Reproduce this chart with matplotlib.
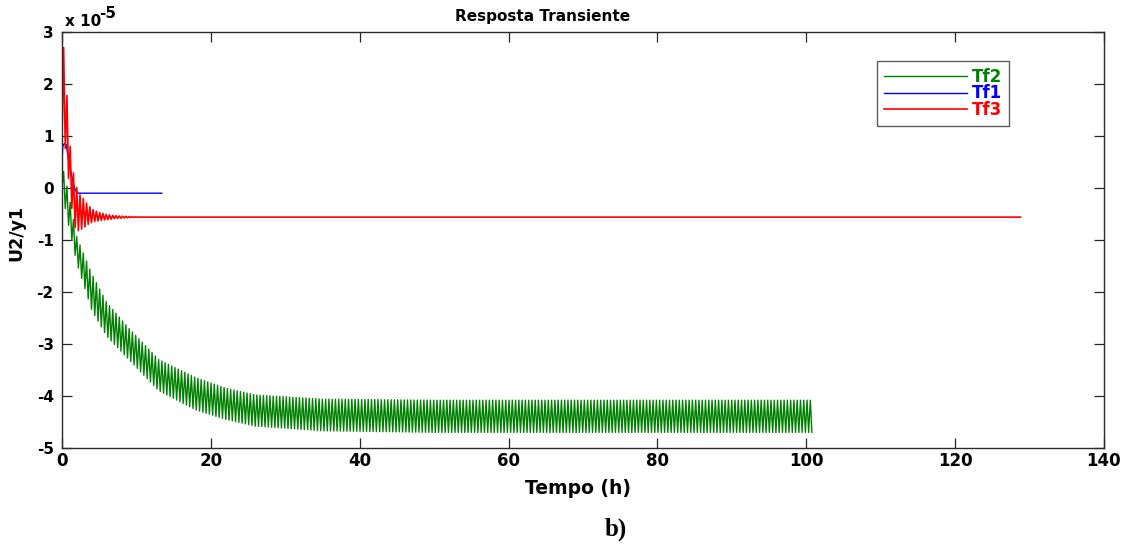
import numpy as np
import matplotlib
matplotlib.use("Agg")
import matplotlib.pyplot as plt

plt.rcParams['font.family'] = ['DejaVu Sans']
plt.rcParams['axes.unicode_minus'] = False

# ---- data (values in units of 1e-5) ----
# Tf2: oscillating response, envelope knots (time in h)
tf2_t     = [0.0, 0.5, 1.0, 2.0, 4.0, 6.0, 9.0, 13.0, 18.0, 22.0, 26.0, 35.0, 50.0, 100.8]
tf2_upper = [0.45, 0.15, -0.20, -0.95, -1.65, -2.20, -2.70, -3.30, -3.65, -3.85, -3.98, -4.06, -4.08, -4.08]
tf2_lower = [0.00, -0.45, -0.80, -1.45, -2.35, -2.85, -3.30, -3.90, -4.27, -4.45, -4.58, -4.67, -4.70, -4.70]

# Tf1: smooth response settling at a constant
tf1_t = [0.0, 0.1, 0.3, 0.6, 0.8, 1.0, 1.2, 1.5, 1.8, 2.2, 13.4]
tf1_v = [0.50, 0.80, 0.85, 0.83, 0.60, 0.45, 0.30, 0.10, -0.05, -0.10, -0.10]

# Tf3: decaying oscillation, envelope knots, then a constant tail
tf3_t     = [0.0, 0.1, 0.3, 0.6, 0.9, 1.3, 1.7, 2.2, 2.8, 3.5, 4.2, 5.0, 6.0, 7.0, 8.0, 9.0, 10.0, 11.0]
tf3_upper = [0.90, 2.85, 2.60, 1.95, 1.10, 0.50, 0.15, -0.10, -0.19, -0.33, -0.42, -0.47, -0.51, -0.53, -0.54, -0.55, -0.555, -0.56]
tf3_lower = [0.90, 1.00, 0.90, 0.60, 0.15, -0.37, -0.75, -0.82, -0.78, -0.70, -0.65, -0.63, -0.61, -0.59, -0.58, -0.57, -0.565, -0.56]
tf3_final = -0.56
tf3_end = 128.8

sample_step = 0.22  # h between alternate extremes

x_ticks = [0, 20, 40, 60, 80, 100, 120, 140]
y_ticks = [-5, -4, -3, -2, -1, 0, 1, 2, 3]


def zigzag(t_knots, upper, lower, step):
    t = np.arange(t_knots[0], t_knots[-1] + 1e-9, step)
    up = np.interp(t, t_knots, upper)
    lo = np.interp(t, t_knots, lower)
    y = np.where(np.arange(len(t)) % 2 == 0, lo, up)
    return t, y


W, H = 1125, 546
fig = plt.figure(figsize=(W / 100, H / 100), dpi=100)
ax = fig.add_axes([62 / W, 1 - 448 / H, (1104 - 62) / W, (448 - 32) / H])

t2, y2 = zigzag(tf2_t, tf2_upper, tf2_lower, sample_step)
t3, y3 = zigzag(tf3_t, tf3_upper, tf3_lower, sample_step)
t3 = np.append(t3, [tf3_t[-1], tf3_end])
y3 = np.append(y3, [tf3_final, tf3_final])

green = '#008000'
ax.plot(t2, y2, color=green, lw=1.0, label='Tf2')
ax.plot(tf1_t, tf1_v, color='#0000ff', lw=1.0, label='Tf1')
ax.plot(t3, y3, color='#ff0000', lw=1.2, label='Tf3')

ax.set_xlim(0, 140)
ax.set_ylim(-5, 3)
ax.set_xticks(x_ticks)
ax.set_yticks(y_ticks)
ax.tick_params(axis='both', direction='in', length=7, width=0.9,
               top=True, right=True, colors='#262626')
ax.tick_params(axis='x', pad=3, labelsize=12)
ax.tick_params(axis='y', pad=6, labelsize=11)
for lab in ax.get_xticklabels() + ax.get_yticklabels():
    lab.set_fontweight('bold')
    lab.set_color('black')
for s in ax.spines.values():
    s.set_color('#2a2a2a')
    s.set_linewidth(1.0)

leg = ax.legend(loc='upper left', bbox_to_anchor=((877 - 62) / (1104 - 62), 1 - (61 - 32) / 416),
                frameon=True, fancybox=False, edgecolor='#333333',
                prop={'weight': 'bold', 'size': 12}, labelspacing=-0.08,
                handlelength=5.0, handletextpad=0.3, borderpad=0.4,
                borderaxespad=0, labelcolor='linecolor')
leg.get_frame().set_linewidth(1.0)

fig.text(543 / W, 1 - 16 / H, 'Resposta Transiente', ha='center', va='center',
         fontsize=11, fontweight='bold')
fig.text(65 / W, 1 - 21 / H, 'x 10', ha='left', va='center', fontsize=11, fontweight='bold')
fig.text(99 / W, 1 - 14 / H, '-5', ha='left', va='center', fontsize=11, fontweight='bold')
fig.text(16 / W, 1 - 233 / H, 'U2/y1', ha='center', va='center', rotation=90,
         fontsize=12.5, fontweight='bold')
fig.text(578 / W, 1 - 488 / H, 'Tempo (h)', ha='center', va='center',
         fontsize=13.5, fontweight='bold')
fig.text(616 / W, 1 - 529 / H, 'b)', ha='center', va='center',
         fontsize=18, fontweight='bold', family=['Liberation Serif', 'DejaVu Serif'])

fig.savefig('out.png', dpi=100)
